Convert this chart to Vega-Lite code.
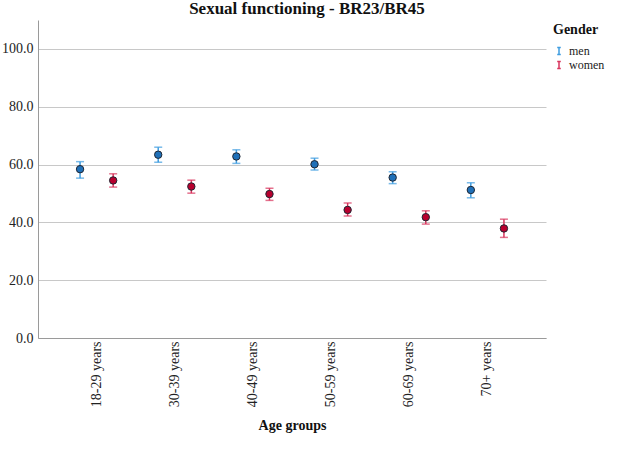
{
  "$schema": "https://vega.github.io/schema/vega-lite/v6.json",
  "autosize": {"type": "none"},
  "width": 508,
  "height": 318,
  "padding": {"left": 38, "top": 20, "right": 87, "bottom": 113},
  "background": "white",
  "config": {"view": {"stroke": null}},
  "title": {
    "text": "Sexual functioning - BR23/BR45",
    "font": "Liberation Serif",
    "fontSize": 17,
    "fontWeight": "bold",
    "color": "#111111",
    "anchor": "middle",
    "dx": 15,
    "offset": 2
  },
  "data": {
    "values": [
      {"age": "18-29 years", "Gender": "men", "mean": 58.4, "lo": 55.3, "hi": 61.0},
      {"age": "18-29 years", "Gender": "women", "mean": 54.5, "lo": 52.2, "hi": 56.8},
      {"age": "30-39 years", "Gender": "men", "mean": 63.4, "lo": 60.8, "hi": 66.0},
      {"age": "30-39 years", "Gender": "women", "mean": 52.4, "lo": 50.1, "hi": 54.6},
      {"age": "40-49 years", "Gender": "men", "mean": 62.8, "lo": 60.4, "hi": 65.1},
      {"age": "40-49 years", "Gender": "women", "mean": 49.8, "lo": 47.6, "hi": 51.8},
      {"age": "50-59 years", "Gender": "men", "mean": 60.1, "lo": 58.1, "hi": 62.2},
      {"age": "50-59 years", "Gender": "women", "mean": 44.3, "lo": 42.2, "hi": 46.7},
      {"age": "60-69 years", "Gender": "men", "mean": 55.5, "lo": 53.4, "hi": 57.5},
      {"age": "60-69 years", "Gender": "women", "mean": 41.8, "lo": 39.4, "hi": 44.0},
      {"age": "70+ years", "Gender": "men", "mean": 51.2, "lo": 48.5, "hi": 53.7},
      {"age": "70+ years", "Gender": "women", "mean": 37.9, "lo": 34.8, "hi": 41.1}
    ]
  },
  "encoding": {
    "x": {
      "field": "age",
      "type": "nominal",
      "sort": null,
      "scale": {"paddingInner": 0, "paddingOuter": 0.25},
      "axis": {
        "title": "Age groups",
        "labelAngle": -90,
        "labelFont": "Liberation Serif",
        "labelFontSize": 14,
        "labelColor": "#222222",
        "labelPadding": 3,
        "ticks": false,
        "domainColor": "#9a9a9a",
        "titleFont": "Liberation Serif",
        "titleFontSize": 14,
        "titleFontWeight": "bold",
        "titleColor": "#111111",
        "titlePadding": 12
      }
    },
    "xOffset": {
      "field": "Gender",
      "type": "nominal",
      "scale": {"paddingInner": 0, "paddingOuter": 0.18}
    }
  },
  "layer": [
    {
      "mark": {"type": "rule", "strokeWidth": 1.5},
      "encoding": {
        "y": {
          "field": "lo",
          "type": "quantitative",
          "scale": {"domain": [0, 110], "nice": false},
          "axis": {
            "title": null,
            "values": [0, 20, 40, 60, 80, 100],
            "format": ".1f",
            "labelFont": "Liberation Serif",
            "labelFontSize": 14,
            "labelColor": "#222222",
            "labelPadding": 5,
            "ticks": false,
            "domainColor": "#9a9a9a",
            "grid": true,
            "gridColor": "#c8c8c8",
            "gridWidth": 1
          }
        },
        "y2": {"field": "hi"},
        "stroke": {
          "field": "Gender",
          "type": "nominal",
          "scale": {"domain": ["men", "women"], "range": ["#3f9de0", "#d8355d"]},
          "legend": {
            "title": "Gender",
            "orient": "none",
            "legendX": 515,
            "legendY": 3,
            "titleFont": "Liberation Serif",
            "titleFontSize": 14,
            "titleFontWeight": "bold",
            "titleColor": "#111111",
            "titlePadding": 8,
            "labelFont": "Liberation Serif",
            "labelFontSize": 12,
            "labelColor": "#222222",
            "labelOffset": 4,
            "rowPadding": 0,
            "symbolType": "M-0.5,-1H0.5M0,-1V1M-0.5,1H0.5",
            "symbolSize": 50,
            "symbolStrokeWidth": 1.5,
            "symbolFillColor": "transparent"
          }
        }
      }
    },
    {
      "mark": {"type": "tick", "size": 8, "thickness": 1.5, "orient": "horizontal"},
      "encoding": {
        "y": {"field": "lo", "type": "quantitative"},
        "color": {
          "field": "Gender",
          "type": "nominal",
          "scale": {"domain": ["men", "women"], "range": ["#3f9de0", "#d8355d"]},
          "legend": null
        }
      }
    },
    {
      "mark": {"type": "tick", "size": 8, "thickness": 1.5, "orient": "horizontal"},
      "encoding": {
        "y": {"field": "hi", "type": "quantitative"},
        "color": {
          "field": "Gender",
          "type": "nominal",
          "scale": {"domain": ["men", "women"], "range": ["#3f9de0", "#d8355d"]},
          "legend": null
        }
      }
    },
    {
      "mark": {"type": "point", "shape": "circle", "filled": true, "size": 55, "opacity": 1, "stroke": "#1f2633", "strokeWidth": 1},
      "encoding": {
        "y": {"field": "mean", "type": "quantitative"},
        "fill": {
          "field": "Gender",
          "type": "nominal",
          "scale": {"domain": ["men", "women"], "range": ["#1f70b8", "#b8002e"]},
          "legend": null
        }
      }
    }
  ]
}
